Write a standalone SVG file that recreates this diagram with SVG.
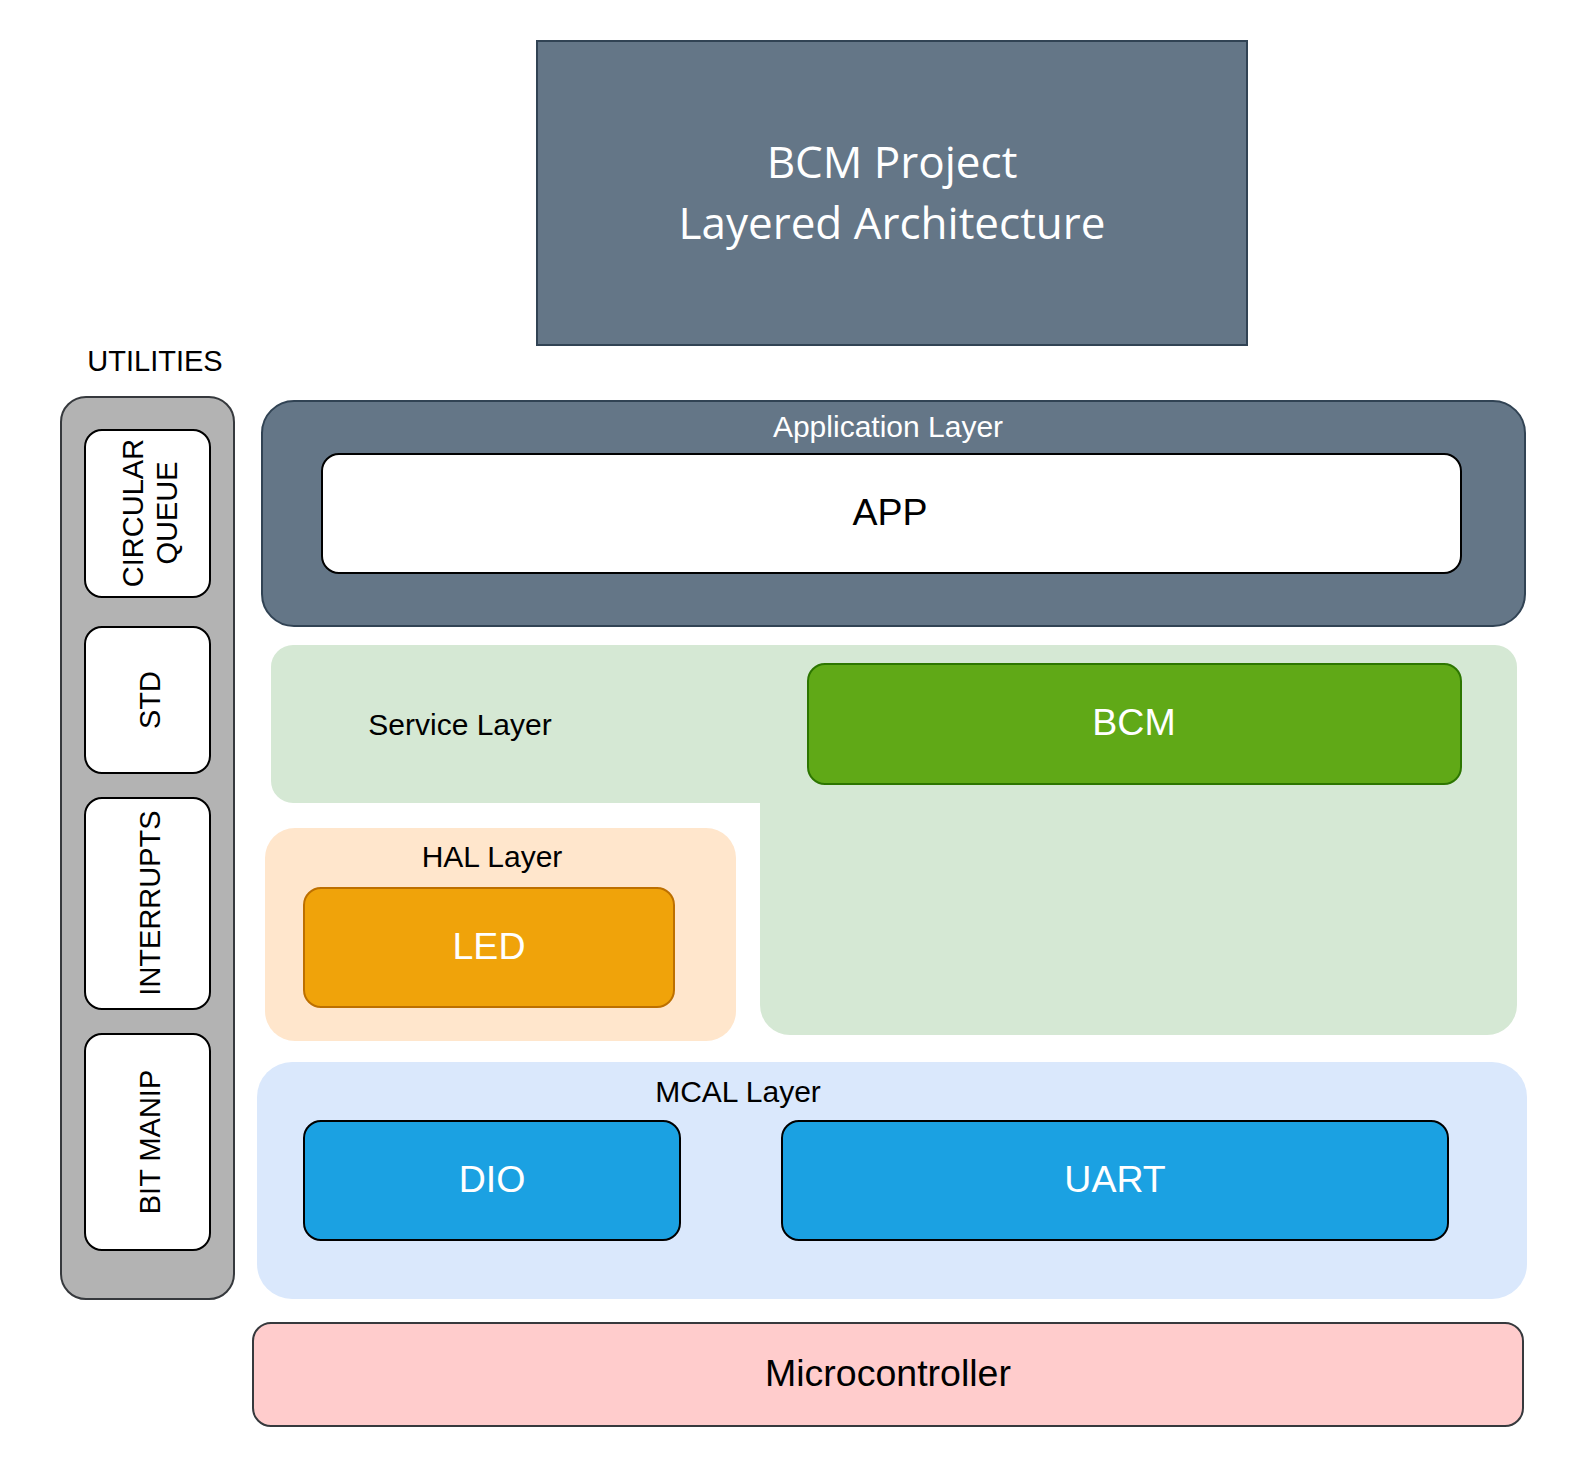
<svg xmlns="http://www.w3.org/2000/svg" width="1570" height="1470" viewBox="0 0 1570 1470">
  <style>
    .lbl { font-family: "Liberation Sans", Arial, sans-serif; fill: #000; }
    .layer { font-size: 30px; text-anchor: middle; }
    .big { font-size: 37.5px; text-anchor: middle; }
    .white { fill: #ffffff; }
    .util { font-size: 29px; text-anchor: middle; }
    .box { stroke: #000; stroke-width: 2; }
    .title { font-family: "Open Sans", "Noto Sans", sans-serif; font-size: 44px; fill: #fff; text-anchor: middle; }
  </style>
  <rect width="1570" height="1470" fill="#ffffff"/>

  <g id="title">
    <rect x="537" y="41" width="710" height="304" fill="#647687" stroke="#314354" stroke-width="2"/>
    <text class="title" x="892" y="178">BCM Project</text>
    <text class="title" x="892" y="239">Layered Architecture</text>
  </g>

  <g id="utilities">
    <text class="lbl util" x="155" y="371">UTILITIES</text>
    <rect x="61" y="397" width="173" height="902" rx="25" fill="#b3b3b3" stroke="#36393d" stroke-width="2"/>
  </g>
  <g id="circular-queue">
    <rect class="box" x="85" y="430" width="125" height="167" rx="17" fill="#fff"/>
    <text class="lbl util" transform="translate(143,513) rotate(-90)">CIRCULAR</text>
    <text class="lbl util" transform="translate(177,513) rotate(-90)">QUEUE</text>
  </g>
  <g id="std">
    <rect class="box" x="85" y="627" width="125" height="146" rx="17" fill="#fff"/>
    <text class="lbl util" transform="translate(160,700) rotate(-90)">STD</text>
  </g>
  <g id="interrupts">
    <rect class="box" x="85" y="798" width="125" height="211" rx="17" fill="#fff"/>
    <text class="lbl util" transform="translate(160,903) rotate(-90)">INTERRUPTS</text>
  </g>
  <g id="bit-manip">
    <rect class="box" x="85" y="1034" width="125" height="216" rx="17" fill="#fff"/>
    <text class="lbl util" transform="translate(160,1142) rotate(-90)">BIT MANIP</text>
  </g>

  <g id="application-layer">
    <rect x="262" y="401" width="1263" height="225" rx="32" fill="#647687" stroke="#314354" stroke-width="2"/>
    <text class="lbl layer white" x="888" y="437">Application Layer</text>
  </g>
  <g id="app">
    <rect class="box" x="322" y="454" width="1139" height="119" rx="17" fill="#fff"/>
    <text class="lbl big" x="890" y="525">APP</text>
  </g>

  <g id="service-layer">
    <path d="M 293,645 H 1495 A 22 22 0 0 1 1517,667 V 1005 A 30 30 0 0 1 1487,1035 H 790 A 30 30 0 0 1 760,1005 V 803 H 293 A 22 22 0 0 1 271,781 V 667 A 22 22 0 0 1 293,645 Z" fill="#d5e8d4"/>
    <text class="lbl layer" x="460" y="735">Service Layer</text>
  </g>
  <g id="bcm">
    <rect x="808" y="664" width="653" height="120" rx="17" fill="#60a917" stroke="#2d7600" stroke-width="2"/>
    <text class="lbl big white" x="1134" y="735">BCM</text>
  </g>

  <g id="hal-layer">
    <rect x="265" y="828" width="471" height="213" rx="30" fill="#ffe6cc"/>
    <text class="lbl layer" x="492" y="867">HAL Layer</text>
  </g>
  <g id="led">
    <rect x="304" y="888" width="370" height="119" rx="17" fill="#f0a30a" stroke="#bd7000" stroke-width="2"/>
    <text class="lbl big white" x="489" y="959">LED</text>
  </g>

  <g id="mcal-layer">
    <rect x="257" y="1062" width="1270" height="237" rx="35" fill="#dae8fc"/>
    <text class="lbl layer" x="738" y="1102">MCAL Layer</text>
  </g>
  <g id="dio">
    <rect class="box" x="304" y="1121" width="376" height="119" rx="17" fill="#1ba1e2"/>
    <text class="lbl big white" x="492" y="1192">DIO</text>
  </g>
  <g id="uart">
    <rect class="box" x="782" y="1121" width="666" height="119" rx="17" fill="#1ba1e2"/>
    <text class="lbl big white" x="1115" y="1192">UART</text>
  </g>

  <g id="microcontroller">
    <rect x="253" y="1323" width="1270" height="103" rx="18" fill="#ffcccc" stroke="#36393d" stroke-width="2"/>
    <text class="lbl big" x="888" y="1386">Microcontroller</text>
  </g>

  <g id="connectors"/>
</svg>
